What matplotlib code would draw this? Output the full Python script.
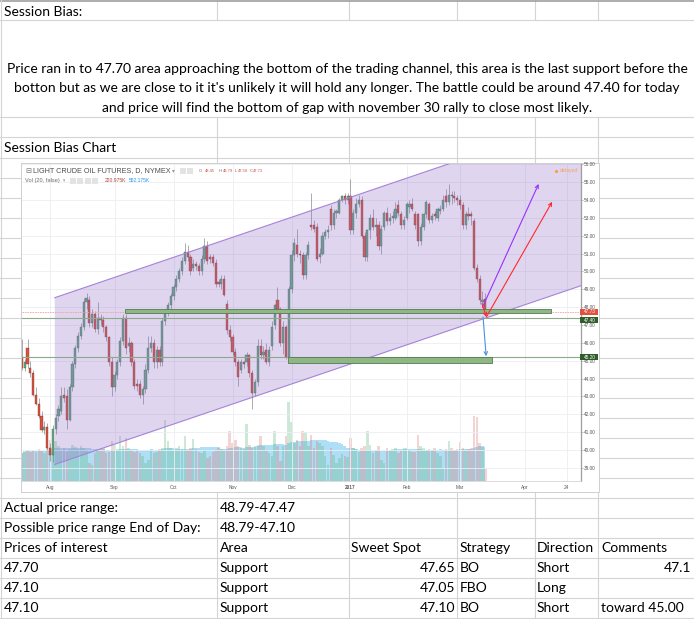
import numpy as np
import pandas as pd
import matplotlib
matplotlib.use("Agg")
import matplotlib.pyplot as plt
from matplotlib.patches import Rectangle, Polygon

plt.rcParams["font.family"] = ["Liberation Sans", "DejaVu Sans"]

# daily candles, 18 Jul 2016 .. 14 Mar 2017
opens = [45.2, 44.6, 45.7, 44.6, 44.3, 43.1, 42.6, 41.9, 41.1, 41.3, 40.1,
         39.7, 41.2, 41.9, 42.2, 43.1, 43.0, 41.7, 43.5, 44.8, 45.7, 46.4, 46.9, 48.3, 48.4, 47.1, 47.6, 46.8, 47.4, 47.3, 46.9, 46.3,
         44.9, 43.5, 44.2, 44.9, 46.1, 47.4, 45.8, 46.0, 44.9, 43.7, 43.7, 43.1, 43.4, 44.5, 45.7, 46.0, 44.9, 45.6, 44.9, 47.2, 47.7,
         48.1, 48.6, 49.1, 49.6, 50.0, 50.6, 51.1, 50.8, 50.2, 50.4, 50.3, 50.0, 50.7, 51.4, 50.8, 50.8, 50.5, 49.4, 49.3, 49.6,
         48.2, 46.7, 46.3, 45.5, 44.9, 44.5, 44.9, 44.9, 45.3, 44.3, 43.2, 43.8, 45.8, 45.3, 45.6, 44.9, 45.8, 47.0, 48.4, 47.9, 46.0, 46.9, 45.2,
         49.0, 50.9, 51.5, 51.0, 50.9, 49.8, 50.9, 52.6, 52.6, 52.5, 50.8, 51.0, 52.0, 52.2, 53.5, 52.6, 53.3, 53.3, 54.0, 54.2, 54.0,
         54.2, 52.3, 53.3, 53.8, 54.0, 52.0, 50.8, 52.3, 53.0, 52.5, 52.6, 51.4, 52.5, 53.3, 52.8, 53.0, 53.0, 53.7, 53.2, 52.6,
         53.0, 53.6, 53.8, 53.2, 53.2, 51.7, 52.5, 53.2, 53.8, 52.9, 53.2, 53.0, 53.4, 53.5, 54.2, 53.9, 54.3, 54.2, 54.1,
         54.0, 53.7, 52.6, 53.2, 53.2, 52.8, 50.2, 49.6, 48.3, 48.45]
highs = [46.2, 45.1, 46.2, 45.0, 44.5, 43.5, 42.9, 42.2, 41.6, 41.5, 40.4,
         41.4, 42.0, 42.5, 43.5, 43.5, 43.4, 43.7, 45.0, 45.9, 46.6, 47.1, 48.5, 48.8, 48.6, 47.9, 47.8, 48.3, 47.6, 47.5, 47.0, 46.4,
         45.2, 44.4, 45.1, 46.3, 47.6, 47.6, 46.3, 46.1, 45.1, 44.0, 43.9, 43.6, 44.8, 46.4, 46.4, 46.2, 45.8, 45.8, 47.4, 47.9, 48.3,
         48.8, 49.3, 49.8, 50.2, 50.8, 51.6, 51.5, 51.0, 50.7, 50.6, 50.5, 50.9, 51.9, 51.7, 51.0, 51.0, 50.7, 49.6, 49.8, 49.8,
         48.4, 47.0, 46.5, 45.7, 45.1, 45.1, 45.0, 45.5, 45.4, 44.5, 44.0, 46.2, 46.2, 45.8, 46.0, 45.8, 47.2, 48.2, 49.1, 48.0, 47.2, 47.0, 49.2,
         51.2, 51.9, 52.4, 51.2, 51.1, 51.1, 51.7, 54.4, 52.9, 52.7, 51.3, 52.2, 52.4, 52.6, 53.7, 53.5, 53.5, 54.1, 54.3, 54.4, 54.4,
         55.2, 53.5, 54.1, 54.3, 54.2, 52.2, 52.4, 53.2, 53.5, 53.0, 52.8, 52.6, 53.4, 53.6, 53.3, 53.4, 53.9, 54.0, 53.4, 53.1,
         53.9, 54.0, 54.1, 53.4, 53.3, 52.7, 53.3, 54.0, 53.9, 53.3, 53.4, 53.6, 53.7, 54.3, 54.6, 54.9, 54.5, 54.5, 54.3,
         54.3, 53.9, 53.4, 53.6, 53.4, 53.0, 50.4, 49.8, 48.9, 48.79]
lows = [44.5, 44.4, 44.6, 44.1, 43.0, 42.5, 41.8, 41.0, 40.9, 40.0, 39.4,
        39.3, 40.9, 41.6, 42.0, 42.7, 41.2, 41.6, 43.3, 44.6, 45.5, 46.2, 46.7, 47.9, 46.9, 46.9, 46.6, 46.5, 47.0, 46.6, 46.1, 44.7,
        43.0, 43.3, 44.0, 44.7, 45.9, 45.4, 45.5, 44.7, 43.4, 43.3, 42.9, 42.6, 43.2, 44.3, 45.5, 44.6, 44.6, 44.7, 44.7, 47.0, 47.5,
        47.9, 48.4, 48.9, 49.4, 49.8, 50.4, 50.6, 49.8, 50.0, 50.1, 49.8, 49.8, 50.5, 50.4, 50.5, 50.3, 49.1, 49.1, 49.0, 48.6,
        46.5, 46.1, 45.3, 44.7, 43.6, 44.3, 44.6, 44.7, 44.1, 42.3, 43.0, 43.6, 45.1, 45.1, 44.8, 44.7, 45.6, 46.8, 47.7, 45.8, 45.4, 45.1, 45.0,
        48.8, 50.6, 50.8, 50.5, 49.6, 49.6, 50.7, 52.3, 52.2, 50.6, 50.5, 50.9, 51.8, 51.9, 52.3, 52.4, 53.0, 53.2, 53.9, 53.8, 53.8,
        52.1, 52.1, 53.0, 53.6, 51.9, 50.6, 50.6, 51.8, 52.3, 52.0, 51.2, 51.0, 52.3, 52.6, 52.6, 52.7, 52.9, 53.1, 52.4, 52.4,
        52.9, 53.3, 53.4, 52.4, 51.4, 51.5, 52.3, 53.0, 52.7, 52.7, 52.9, 52.8, 53.2, 53.4, 53.6, 53.7, 53.8, 53.9, 53.7,
        53.5, 52.4, 52.4, 52.9, 52.6, 50.1, 49.4, 48.2, 48.0, 47.59]
closes = [44.6, 44.9, 44.8, 44.3, 43.1, 42.6, 41.9, 41.1, 41.3, 40.1, 39.7,
          41.2, 41.8, 42.3, 43.0, 42.9, 41.7, 43.5, 44.8, 45.7, 46.4, 46.9, 48.3, 48.5, 47.1, 47.6, 46.8, 47.4, 47.3, 46.9, 46.3, 44.9,
          43.5, 44.2, 44.9, 46.1, 47.4, 45.7, 46.0, 44.9, 43.6, 43.6, 43.1, 43.4, 44.5, 45.7, 46.0, 44.9, 45.6, 44.9, 47.2, 47.7, 48.1,
          48.6, 49.1, 49.6, 50.0, 50.6, 51.1, 50.8, 50.0, 50.4, 50.3, 50.0, 50.7, 51.4, 50.6, 50.7, 50.5, 49.3, 49.3, 49.6, 48.7,
          46.7, 46.3, 45.5, 44.9, 44.1, 44.9, 44.8, 45.3, 44.3, 43.2, 43.8, 45.8, 45.3, 45.5, 44.9, 45.6, 46.9, 48.1, 47.9, 46.0, 46.9, 45.2, 49.0,
          50.9, 51.6, 51.0, 50.9, 49.8, 50.9, 51.5, 52.5, 52.4, 50.7, 51.0, 52.0, 52.2, 52.3, 52.6, 53.3, 53.4, 54.0, 54.2, 54.0, 54.2,
          52.3, 53.3, 53.8, 54.0, 52.0, 50.8, 52.3, 53.0, 52.5, 52.6, 51.4, 52.4, 53.3, 52.8, 53.0, 53.1, 53.5, 53.3, 52.6, 52.9,
          53.8, 53.8, 53.5, 52.6, 51.7, 52.5, 53.2, 53.9, 52.9, 53.1, 53.1, 53.5, 53.5, 54.0, 53.9, 54.3, 54.2, 54.1, 54.0,
          53.7, 52.6, 53.2, 53.1, 53.1, 50.2, 49.6, 48.4, 48.4, 47.73]
# volume in thousands of contracts
volumes = [480, 510, 530, 490, 520, 500, 540, 510, 480, 560, 700,
           720, 680, 600, 520, 560, 500, 540, 620, 580, 540, 600, 560, 520, 300, 260, 480, 520, 540, 560, 480, 500, 690,
           620, 540, 760, 600, 740, 560, 520, 500, 520, 480, 420, 300, 350, 520, 480, 500, 540, 560, 1050, 680, 560,
           520, 560, 600, 540, 775, 520, 560, 720, 540, 500, 480, 520, 380, 420, 500, 520, 560, 540, 520, 600, 860,
           640, 700, 600, 580, 540, 980, 620, 560, 600, 620, 760, 600, 520, 480, 420, 860, 600, 340, 600, 760, 1360,
           1010, 640, 700, 600, 860, 840, 600, 780, 560, 680, 640, 600, 420, 260, 560, 440, 300, 380, 460, 420, 400,
           740, 560, 540, 500, 560, 600, 860, 620, 480, 520, 600, 360, 300, 560, 520, 540, 560, 480, 520, 560,
           560, 520, 500, 500, 790, 600, 560, 520, 540, 520, 560, 480, 420, 200, 540, 690, 560, 520, 540,
           670, 560, 520, 540, 560, 1120, 1100, 650, 580, 210]

month_ticks = [10, 33, 54, 75, 96, 117, 137, 156, 179, 194]
month_labels = ["Aug", "Sep", "Oct", "Nov", "Dec", "2017", "Feb", "Mar", "Apr", "24"]
price_ticks = list(range(39, 57))

last_price = 47.73
level_a = 47.40
level_b = 45.20
box_a = (36.8, 188.3, 47.68, 47.88)   # x from, x to, low, high
box_b = (94.9, 167.3, 44.85, 45.20)
chan_x = (11.7, 203.0)
chan_top = (48.53, 58.75)
chan_bot = (39.19, 49.41)

paragraph = ["Price ran in to 47.70 area approaching the bottom of the trading channel, this area is the last support before the",
             "botton but as we are close to it it's unlikely it will hold any longer. The battle could be around 47.40 for today",
             "and price will find the bottom of gap with november 30 rally to close most likely."]
col_a = ["Actual price range:", "Possible price range End of Day:", "Prices of interest", "47.70", "47.10", "47.10"]
col_b = ["48.79-47.47", "48.79-47.10", "Area", "Support", "Support", "Support"]
col_c = ["", "", "Sweet Spot", "47.65", "47.05", "47.10"]
col_d = ["", "", "Strategy", "BO", "FBO", "BO"]
col_e = ["", "", "Direction", "Short", "Long", "Short"]
col_f = ["", "", "Comments", "47.1", "", "toward 45.00"]

W, H = 694, 619
fig = plt.figure(figsize=(W / 100, H / 100), dpi=100)
renderer = fig.canvas.get_renderer()


def fit_size(txt, width_px, **kw):
    t = fig.text(0, 0, txt, fontsize=10, **kw)
    w = t.get_window_extent(renderer).width
    t.remove()
    return 10 * width_px / w


# ---- spreadsheet underneath ----
sheet = fig.add_axes([0, 0, 1, 1], zorder=1)
sheet.set_xlim(0, W)
sheet.set_ylim(H, 0)
sheet.axis("off")

grid_c = "#d4d4d4"
row_lines = [20, 117, 137] + [157.5 + 20 * k for k in range(24)]
for y in row_lines:
    sheet.plot([0, W], [y, y], color=grid_c, lw=0.8)
for x in [217, 349, 457, 535, 598]:
    sheet.plot([x, x], [0, 20], color=grid_c, lw=0.8)
    sheet.plot([x, x], [117, H], color=grid_c, lw=0.8)
sheet.plot([0, W], [0.8, 0.8], color="#a0a0a0", lw=1.2)
sheet.plot([0.5, 0.5], [0, H], color=grid_c, lw=0.8)

fam = ["Lato", "DejaVu Sans"]
fs = fit_size(paragraph[0], 683, family=fam)
sheet.text(4, 16, "Session Bias:", fontsize=fs, family=fam, va="baseline")
for line, yb in zip(paragraph, [73, 92.5, 112]):
    sheet.text(347, yb, line, fontsize=fs, family=fam, va="baseline", ha="center")
sheet.text(4, 152.5, "Session Bias Chart", fontsize=fs, family=fam, va="baseline")

for i in range(len(col_a)):
    yb = 517.5 + 20 * i - 6
    sheet.text(4, yb, col_a[i], fontsize=fs, family=fam, va="baseline")
    sheet.text(220, yb, col_b[i], fontsize=fs, family=fam, va="baseline")
    if i == 2:
        sheet.text(351, yb, col_c[i], fontsize=fs, family=fam, va="baseline")
    else:
        sheet.text(455, yb, col_c[i], fontsize=fs, family=fam, va="baseline", ha="right")
    sheet.text(460, yb, col_d[i], fontsize=fs, family=fam, va="baseline")
    sheet.text(537, yb, col_e[i], fontsize=fs, family=fam, va="baseline")
    if col_f[i].replace(".", "").isdigit():
        sheet.text(691, yb, col_f[i], fontsize=fs, family=fam, va="baseline", ha="right")
    else:
        sheet.text(601, yb, col_f[i], fontsize=fs, family=fam, va="baseline")

# chart picture frame
sheet.add_patch(Rectangle((21.5, 163), 577.5, 329, facecolor="white", edgecolor="#cfcfcf", lw=0.7, zorder=5))

# ---- trading chart ----
pos = [22 / W, 1 - 480.5 / H, (580.5 - 22) / W, (480.5 - 163.5) / H]
vol_ax = fig.add_axes(pos, zorder=2)
ax = fig.add_axes(pos, zorder=3)
ax.patch.set_alpha(0)

n = len(closes)
idx = np.arange(n) + (165 - (n - 1))
o = np.array(opens)
c = np.array(closes)
up = c >= o

xlim = (0.03, 198.9)
vol_ax.set_xlim(*xlim)
vol_ax.set_ylim(0, 317 * 17.25)
vol_ax.axis("off")
vol = pd.Series(volumes, dtype=float)
vol_ma = vol.rolling(20, min_periods=1).mean()
vol_ax.fill_between(idx, 0, vol_ma, color="#6cc6f2", alpha=0.55, lw=0, step="mid", zorder=1)
vol_ax.bar(idx, volumes, width=0.9, color=np.where(up, "#5fb37d", "#d9736a"), alpha=0.3, lw=0, zorder=2)

ax.set_xlim(*xlim)
ax.set_ylim(38.29, 56.045)
ax.grid(True, color="#eceef1", lw=0.6, zorder=0)
ax.set_axisbelow(True)

# channel
chan = Polygon([(chan_x[0], chan_top[0]), (chan_x[1], chan_top[1]), (chan_x[1], chan_bot[1]), (chan_x[0], chan_bot[0])],
               closed=True, facecolor="#9575cd", alpha=0.3, lw=0, zorder=4)
ax.add_patch(chan)
ax.plot(chan_x, chan_top, color="#a583d6", lw=0.8, zorder=5)
ax.plot(chan_x, chan_bot, color="#a583d6", lw=0.8, zorder=5)

# candles
ax.vlines(idx, lows, highs, color="#7d7d80", lw=0.45, zorder=2)
body_lo = np.minimum(o, c)
body_h = np.maximum(np.abs(c - o), 0.05)
ax.bar(idx, body_h, bottom=body_lo, width=0.78, color=np.where(up, "#6ba583", "#d75442"),
       edgecolor=np.where(up, "#2f6b47", "#7a2a20"), lw=0.25, zorder=3)

# levels
ax.axhline(last_price, color="#f2a49c", lw=0.6, ls=(0, (2, 1)), zorder=5)
ax.axhline(level_a, color="#8fa78c", lw=0.8, zorder=5)
ax.axhline(level_b, color="#8fa78c", lw=0.8, zorder=5)
for bx in (box_a, box_b):
    ax.add_patch(Rectangle((bx[0], bx[2]), bx[1] - bx[0], bx[3] - bx[2], facecolor="#8fb784",
                           edgecolor="#557a55", lw=0.6, zorder=6))


def arrow(p0, p1, col):
    ax.annotate("", xy=p1, xytext=p0, zorder=8,
                arrowprops=dict(arrowstyle="->", color=col, lw=0.8, mutation_scale=6, shrinkA=0, shrinkB=0))


arrow((164.0, 48.0), (184.0, 54.9), "#9b30ff")
arrow((163.8, 48.2), (165.4, 47.45), "#ff2a2a")
arrow((165.4, 47.45), (188.8, 53.9), "#ff2a2a")
arrow((164.2, 47.45), (165.3, 45.25), "#4a90e2")

# axes look
for s in ["top", "left"]:
    ax.spines[s].set_visible(False)
ax.spines["right"].set_color("#9e9e9e")
ax.spines["right"].set_linewidth(0.9)
ax.spines["bottom"].set_color("#d6d6d6")
ax.spines["bottom"].set_linewidth(0.6)
ax.yaxis.tick_right()
ax.set_yticks(price_ticks)
ax.set_yticklabels([f"{v:.2f}" for v in price_ticks])
ax.tick_params(axis="y", length=1.5, width=0.4, color="#8a8a8a", labelsize=3.4, labelcolor="#555555", pad=1.2)
ax.set_xticks(month_ticks)
ax.set_xticklabels(month_labels)
ax.tick_params(axis="x", length=0, labelsize=3.4, labelcolor="#555555", pad=3.2)
ax.get_xticklabels()[5].set_fontweight("bold")

# ---- overlay (chart header and axis price labels) ----
top = fig.add_axes([0, 0, 1, 1], zorder=6)
top.set_xlim(0, W)
top.set_ylim(H, 0)
top.axis("off")


def py(price):
    return H - ax.transData.transform((0, price))[1]


tfs = fit_size("LIGHT CRUDE OIL FUTURES, D, NYMEX", 137)
top.text(25, 171, "\u229f", fontsize=tfs, color="#777777", va="center", family="DejaVu Sans")
top.text(33.5, 171, "LIGHT CRUDE OIL FUTURES, D, NYMEX", fontsize=tfs, color="#4d4d4d", va="center")
top.text(172, 171, "\u25be", fontsize=tfs * 0.8, color="#999999", va="center", family="DejaVu Sans")
for bx in [180, 187.5]:
    top.add_patch(Rectangle((bx, 168), 6, 6, facecolor="#e3e3e3", edgecolor="none"))
sfs = fit_size("48.45", 10)
for xl, lt, xv, val in [(199, "O", 205, "48.45"), (218.3, "H", 222.7, "48.79"),
                        (235, "L", 237.7, "47.59"), (250, "C", 253.3, "47.73")]:
    top.text(xl, 171, lt, fontsize=sfs, color="#6b6b6b", va="center")
    top.text(xv, 171, val, fontsize=sfs, color="#d24a3f", va="center")
vfs = fit_size("Vol (20, false)", 35)
top.text(25, 180.5, "Vol (20, false)", fontsize=vfs, color="#6b6b6b", va="center")
top.text(62.5, 180.5, "\u25be", fontsize=vfs * 0.8, color="#999999", va="center", family="DejaVu Sans")
for bx in [70, 77.5, 85, 92.5]:
    top.add_patch(Rectangle((bx, 177.5), 6, 6, facecolor="#e3e3e3", edgecolor="none"))
kfs = fit_size("220.975K", 21.7)
top.text(105, 180.5, "220.975K", fontsize=kfs, color="#b0453c", va="center")
top.text(129, 180.5, "552.175K", fontsize=kfs, color="#2196f3", va="center")

top.plot([556.5], [170.5], "o", ms=2.2, color="#ff9a3c", mec="none")
top.text(559.5, 170.7, "delayed", fontsize=fit_size("delayed", 18), color="#f7a35c", va="center")

lfs = fit_size("47.73", 12)
for price, col, shift in [(last_price, "#e0503f", 0), (level_a, "#2f5d2a", 2.2), (level_b, "#2f5d2a", 0)]:
    yc = py(price) + shift
    top.add_patch(Rectangle((580.5, yc - 3.3), 18, 6.6, facecolor=col, edgecolor="none"))
    top.text(589.5, yc, f"{price:.2f}", fontsize=lfs, color="white", va="center", ha="center")

fig.savefig("out.png", dpi=100)
